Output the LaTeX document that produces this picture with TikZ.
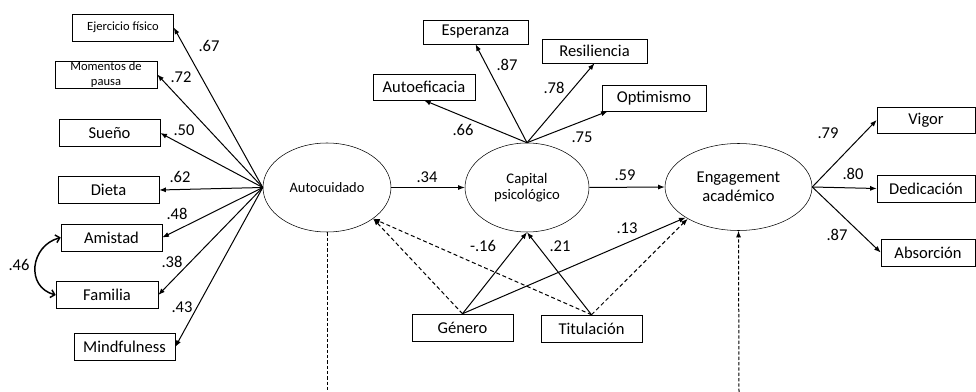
\documentclass[tikz,border=0pt]{standalone}
\usepackage{fontspec}
\setmainfont{Carlito}
\usetikzlibrary{shapes.geometric}
\usetikzlibrary{arrows.meta}

\begin{document}
\begin{tikzpicture}[x=0.75pt, y=-0.75pt,
    obs/.style={draw, rectangle, inner sep=0pt, minimum width=75.75pt, minimum height=20.25pt, font=\fontsize{12.4}{14}\selectfont},
    obssmall/.style={obs, align=center, font=\fontsize{9.4}{11.2}\selectfont},
    lat/.style={draw, ellipse, inner sep=0pt, align=center},
    coef/.style={inner sep=0pt, font=\fontsize{12.4}{14}\selectfont},
    arr/.style={-{Latex[length=5pt,width=3.8pt]}, line width=0.75pt},
    darr/.style={arr, dash pattern=on 3pt off 2pt},
    vline/.style={line width=0.75pt, dash pattern=on 2.5pt off 1.5pt}]
    \useasboundingbox (0,0) rectangle (976,392);

    % latent variables
    \node [lat, minimum width=96pt, minimum height=66.75pt, font=\fontsize{10.8}{13}\selectfont] (auto) at (327,187.5) {Autocuidado};
    \node [lat, minimum width=93pt, minimum height=66.75pt, font=\fontsize{11}{12}\selectfont] (cap) at (527,187.5) {Capital\\psicológico};
    \node [lat, minimum width=110.25pt, minimum height=65.25pt, font=\fontsize{12.4}{14.5}\selectfont] (eng) at (738.5,187) {Engagement\\académico};

    % indicators of Autocuidado
    \node [obssmall] (ejer) at (123,27.5) {Ejercicio físico};
    \node [obssmall, minimum width=76.5pt] (mom) at (106,74.5) {Momentos de\\pausa};
    \node [obs] (sueno) at (109.5,133) {Sueño};
    \node [obs] (dieta) at (108.5,190) {Dieta};
    \node [obs] (ami) at (111.5,237.5) {Amistad};
    \node [obs, minimum width=76.5pt] (fam) at (107,295) {Familia};
    \node [obs] (mind) at (124.5,347) {Mindfulness};

    % indicators of Capital psicologico
    \node [obs, minimum width=78.75pt, minimum height=18pt] (esp) at (475.5,32) {Esperanza};
    \node [obs, minimum width=78.75pt, minimum height=18pt] (res) at (594.5,51) {Resiliencia};
    \node [obs, minimum width=76.5pt, minimum height=19.5pt] (aeff) at (424,87) {Autoeficacia};
    \node [obs, minimum width=78pt, minimum height=19.5pt] (opt) at (654,98) {Optimismo};

    % indicators of Engagement
    \node [obs, minimum width=73.5pt, minimum height=19.5pt] (vig) at (926,120) {Vigor};
    \node [obs, minimum width=73.5pt] (ded) at (926,188.5) {Dedicación};
    \node [obs, minimum width=70.5pt] (abs) at (928,252.5) {Absorción};

    % covariates
    \node [obs] (gen) at (462.5,327.5) {Género};
    \node [obs] (tit) at (591.5,328.5) {Titulación};

    \coordinate (autobot) at (327,392);
    \coordinate (engbot) at (739,392);

    % loadings
    \draw [arr] (auto.west) -- (ejer.east);
    \draw [arr] (auto.west) -- (mom.east);
    \draw [arr] (auto.west) -- (sueno.east);
    \draw [arr] (auto.west) -- (dieta.east);
    \draw [arr] (auto.west) -- (ami.east);
    \draw [arr] (auto.west) -- (fam.east);
    \draw [arr] (auto.west) -- (mind.east);
    \draw [arr] (cap.north) -- (aeff.south);
    \draw [arr] (cap.north) -- (esp.south);
    \draw [arr] (cap.north) -- (res.south);
    \draw [arr] (cap.north) -- (opt.196);
    \draw [arr] (eng.east) -- (vig.west);
    \draw [arr] (eng.east) -- (ded.west);
    \draw [arr] (eng.east) -- (abs.west);

    % structural paths
    \draw [arr] (auto.east) -- (cap.west);
    \draw [arr] (cap.east) -- (eng.west);
    \draw [arr] (gen.north) -- (cap.south);
    \draw [arr] (tit.north) -- (cap.south);
    \draw [arr] (gen.north) -- (eng.210);
    \draw [darr] (tit.north) -- (eng.212);
    \draw [darr] (gen.north) -- (auto.-34);
    \draw [darr] (tit.north) -- (auto.-34);
    \draw [line width=1.1pt, {Straight Barb[length=3pt,width=6pt]}-{Straight Barb[length=3pt,width=6pt]}]
        (ami.west) to[out=195, in=165, looseness=1.4] (fam.west);
    \draw [vline] (auto.south) -- (autobot);
    \draw [arr, vline] (engbot) -- (eng.south);

    % coefficients
    \node [coef] (c67) at (209,46) {.67};
    \node [coef] (c72) at (181,77) {.72};
    \node [coef] (c50) at (184,130) {.50};
    \node [coef] (c62) at (180,177) {.62};
    \node [coef] (c48) at (177,214) {.48};
    \node [coef] (c38) at (172,262) {.38};
    \node [coef] (c43) at (182,307) {.43};
    \node [coef] (c46) at (19,265) {.46};
    \node [coef] (c34) at (427,177) {.34};
    \node [coef] (c66) at (463,130) {.66};
    \node [coef] (c87a) at (507,65) {.87};
    \node [coef] (c78) at (554,88) {.78};
    \node [coef] (c75) at (582,137) {.75};
    \node [coef] (c59) at (625,175) {.59};
    \node [coef] (c16) at (483,246) {-.16};
    \node [coef] (c21) at (560,246) {.21};
    \node [coef] (c13) at (627,228) {.13};
    \node [coef] (c79) at (828,133) {.79};
    \node [coef] (c80) at (853,174) {.80};
    \node [coef] (c87b) at (837,235) {.87};
\end{tikzpicture}
\end{document}
